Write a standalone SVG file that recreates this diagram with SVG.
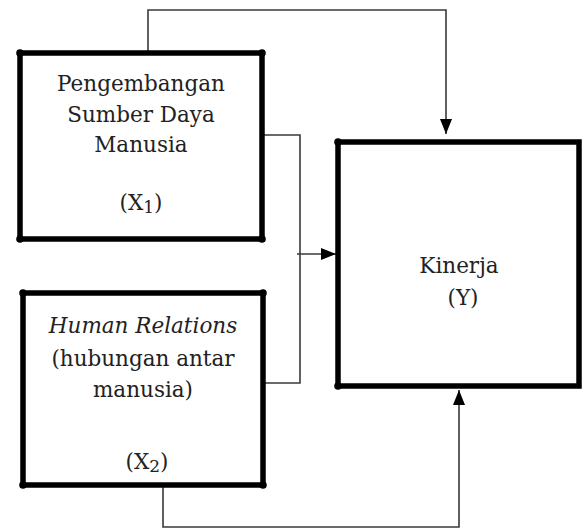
<svg xmlns="http://www.w3.org/2000/svg" width="587" height="528" viewBox="0 0 587 528">
<style>
.box{fill:#fff;stroke:#000;stroke-width:5.5}
.dot{fill:#000}
.con{fill:none;stroke:#3a3a3a;stroke-width:1.6}
text{font-family:"DejaVu Serif","Liberation Serif",serif;font-size:21.5px;fill:#222;text-anchor:middle}
.sub{font-size:17px}
</style>
<defs>
<marker id="ah" viewBox="0 0 15 12" refX="15" refY="6" markerWidth="15" markerHeight="12" markerUnits="userSpaceOnUse" orient="auto">
<path d="M0,0 L15,6 L0,12 Z" fill="#000"/>
</marker>
</defs>
<rect width="587" height="528" fill="#fff"/>
<g id="connectors">
<path class="con" d="M148,53 V10 H446 V134" marker-end="url(#ah)"/>
<path class="con" d="M262,135 H300 V383 H263"/>
<path class="con" d="M297,254 H336" marker-end="url(#ah)"/>
<path class="con" d="M163,485 V527 H459 V390" marker-end="url(#ah)"/>
</g>
<g id="x1">
<rect class="box" x="20" y="53" width="242" height="186"/>
<circle class="dot" cx="20" cy="53" r="3.8"/><circle class="dot" cx="262" cy="53" r="3.8"/>
<circle class="dot" cx="20" cy="239" r="3.8"/><circle class="dot" cx="262" cy="239" r="3.8"/>
<text x="141" y="91">Pengembangan</text>
<text x="141" y="122">Sumber Daya</text>
<text x="141" y="152">Manusia</text>
<text x="141" y="210">(X<tspan class="sub" dy="3">1</tspan><tspan dy="-3">)</tspan></text>
</g>
<g id="x2">
<rect class="box" x="23" y="293" width="240" height="192"/>
<circle class="dot" cx="23" cy="293" r="3.8"/><circle class="dot" cx="263" cy="293" r="3.8"/>
<circle class="dot" cx="23" cy="485" r="3.8"/><circle class="dot" cx="263" cy="485" r="3.8"/>
<text x="143" y="333" font-style="italic">Human Relations</text>
<text x="143" y="366">(hubungan antar</text>
<text x="143" y="397">manusia)</text>
<text x="147" y="469">(X<tspan class="sub" dy="3">2</tspan><tspan dy="-3">)</tspan></text>
</g>
<g id="y">
<rect class="box" x="338" y="142" width="241" height="244"/>
<circle class="dot" cx="338" cy="142" r="3.8"/>
<circle class="dot" cx="338" cy="386" r="3.8"/>
<text x="459" y="273">Kinerja</text>
<text x="463" y="305">(Y)</text>
</g>
</svg>
